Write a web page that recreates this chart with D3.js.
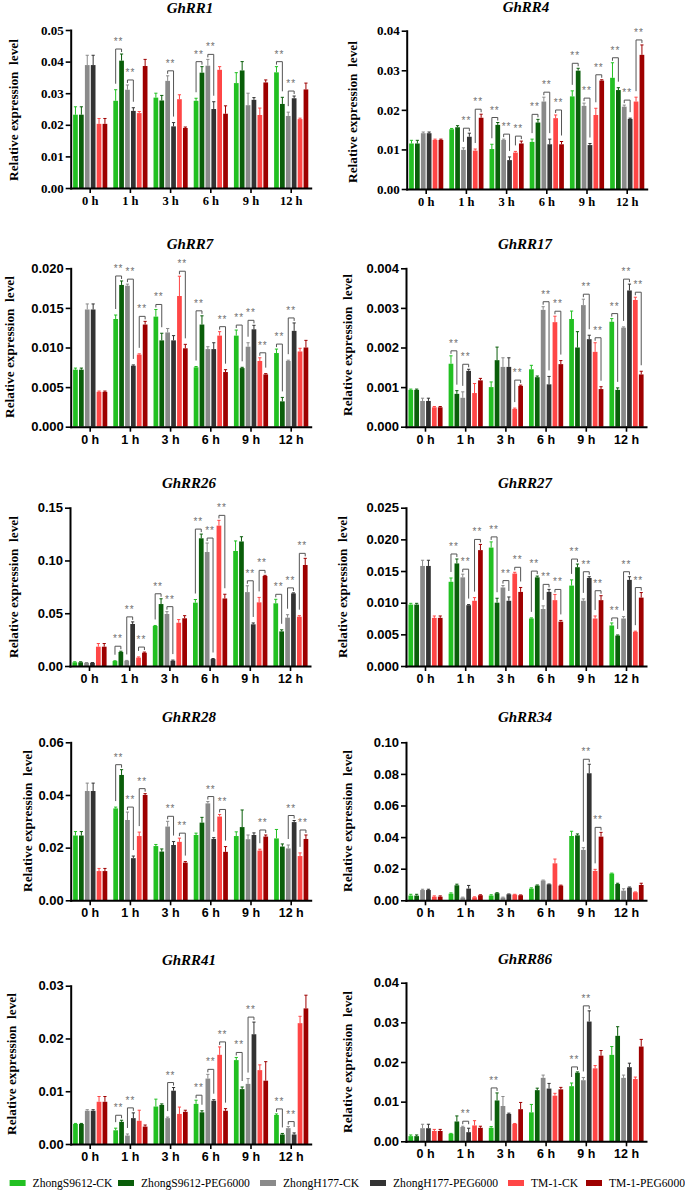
<!DOCTYPE html>
<html>
<head>
<meta charset="utf-8">
<script src="https://cdn.jsdelivr.net/npm/d3@7"></script>
<style>
  body { margin: 0; background: #fff; }
</style>
</head>
<body>
<div id="chart"></div>
<script>
// ---- data ----
const timePoints = ["0 h", "1 h", "3 h", "6 h", "9 h", "12 h"];
const seriesNames = ["ZhongS9612-CK", "ZhongS9612-PEG6000", "ZhongH177-CK", "ZhongH177-PEG6000", "TM-1-CK", "TM-1-PEG6000"];
const genes = ["GhRR1", "GhRR4", "GhRR7", "GhRR17", "GhRR26", "GhRR27", "GhRR28", "GhRR34", "GhRR41", "GhRR86"];
const yMaxes = [0.05, 0.04, 0.020, 0.004, 0.15, 0.025, 0.06, 0.10, 0.03, 0.04];
const yTickSteps = [0.01, 0.01, 0.005, 0.001, 0.05, 0.005, 0.02, 0.02, 0.01, 0.01];
const yTickDecimals = [2, 2, 3, 3, 2, 3, 2, 2, 2, 2];

// rows = time points, columns = series (same order as seriesNames)
const rr1Mean = [
  [0.0232, 0.0232, 0.0389, 0.0389, 0.0203, 0.0203],
  [0.0276, 0.0403, 0.0311, 0.0244, 0.0237, 0.0386],
  [0.0286, 0.0277, 0.0339, 0.0195, 0.0281, 0.0190],
  [0.0276, 0.0365, 0.0387, 0.0250, 0.0374, 0.0235],
  [0.0332, 0.0372, 0.0262, 0.0279, 0.0231, 0.0334],
  [0.0366, 0.0266, 0.0228, 0.0284, 0.0218, 0.0312]];
const rr1Err = [
  [0.0025, 0.0025, 0.0031, 0.0031, 0.0017, 0.0017],
  [0.0035, 0.0021, 0.0015, 0.0010, 0.0005, 0.0021],
  [0.0014, 0.0016, 0.0016, 0.0012, 0.0014, 0.0003],
  [0.0008, 0.0019, 0.0020, 0.0023, 0.0010, 0.0025],
  [0.0033, 0.0028, 0.0038, 0.0007, 0.0022, 0.0008],
  [0.0018, 0.0021, 0.0012, 0.0007, 0.0003, 0.0020]];
// [time index, pair] pair: 0 = ZhongS9612, 1 = ZhongH177, 2 = TM-1
const rr1Sig = [[1, 0], [1, 1], [2, 1], [3, 0], [3, 1], [5, 0], [5, 1]];

const rr4Mean = [
  [0.0115, 0.0115, 0.0141, 0.0141, 0.0124, 0.0124],
  [0.0151, 0.0156, 0.0099, 0.0132, 0.0097, 0.0180],
  [0.0101, 0.0162, 0.0124, 0.0073, 0.0092, 0.0115],
  [0.0119, 0.0168, 0.0221, 0.0113, 0.0179, 0.0113],
  [0.0234, 0.0299, 0.0210, 0.0111, 0.0187, 0.0274],
  [0.0281, 0.0250, 0.0208, 0.0177, 0.0221, 0.0339]];
const rr4Err = [
  [0.0008, 0.0008, 0.0003, 0.0003, 0.0002, 0.0002],
  [0.0002, 0.0004, 0.0005, 0.0009, 0.0004, 0.0009],
  [0.0012, 0.0006, 0.0002, 0.0008, 0.0003, 0.0006],
  [0.0007, 0.0008, 0.0011, 0.0013, 0.0008, 0.0007],
  [0.0014, 0.0006, 0.0007, 0.0004, 0.0017, 0.0002],
  [0.0038, 0.0006, 0.0004, 0.0002, 0.0011, 0.0025]];
const rr4Sig = [[1, 1], [1, 2], [2, 0], [2, 1], [2, 2], [3, 0], [3, 1], [3, 2], [4, 0], [4, 1], [4, 2], [5, 0], [5, 1], [5, 2]];

const rr7Mean = [
  [0.0072, 0.0072, 0.0148, 0.0148, 0.0044, 0.0044],
  [0.0136, 0.0179, 0.0178, 0.0077, 0.0091, 0.0129],
  [0.0139, 0.0109, 0.0119, 0.0109, 0.0165, 0.0099],
  [0.0075, 0.0129, 0.0098, 0.0098, 0.0115, 0.0069],
  [0.0115, 0.0074, 0.0101, 0.0123, 0.0083, 0.0066],
  [0.0093, 0.0032, 0.0083, 0.0121, 0.0095, 0.0100]];
const rr7Err = [
  [0.0002, 0.0002, 0.0007, 0.0007, 0.0001, 0.0001],
  [0.0005, 0.0005, 0.0002, 0.0001, 0.0001, 0.0004],
  [0.0009, 0.0009, 0.0005, 0.0006, 0.0025, 0.0005],
  [0.0001, 0.0011, 0.0003, 0.0008, 0.0005, 0.0003],
  [0.0007, 0.0001, 0.0005, 0.0005, 0.0004, 0.0001],
  [0.0005, 0.0005, 0.0001, 0.0010, 0.0004, 0.0009]];
const rr7Sig = [[1, 0], [1, 1], [1, 2], [2, 0], [2, 2], [3, 0], [3, 2], [4, 0], [4, 1], [4, 2], [5, 0], [5, 1]];

const rr17Mean = [
  [0.00093, 0.00093, 0.00065, 0.00065, 0.00049, 0.00049],
  [0.00159, 0.00083, 0.00073, 0.00141, 0.00085, 0.00117],
  [0.00100, 0.00168, 0.00151, 0.00151, 0.00045, 0.00103],
  [0.00145, 0.00125, 0.00295, 0.00107, 0.00264, 0.00158],
  [0.00272, 0.00200, 0.00307, 0.00221, 0.00189, 0.00095],
  [0.00265, 0.00093, 0.00250, 0.00344, 0.00320, 0.00132]];
const rr17Err = [
  [0.00002, 0.00002, 0.00007, 0.00007, 0.00002, 0.00002],
  [0.00020, 0.00008, 0.00015, 0.00004, 0.00024, 0.00005],
  [0.00013, 0.00033, 0.00023, 0.00023, 0.00002, 0.00002],
  [0.00010, 0.00003, 0.00008, 0.00020, 0.00015, 0.00009],
  [0.00020, 0.00040, 0.00015, 0.00010, 0.00023, 0.00006],
  [0.00008, 0.00005, 0.00002, 0.00016, 0.00007, 0.00008]];
const rr17Sig = [[1, 0], [1, 1], [2, 2], [3, 1], [3, 2], [4, 1], [4, 2], [5, 0], [5, 1], [5, 2]];

const rr26Mean = [
  [0.0035, 0.0035, 0.0030, 0.0030, 0.0183, 0.0183],
  [0.0047, 0.0133, 0.0050, 0.0398, 0.0079, 0.0126],
  [0.0379, 0.0587, 0.0493, 0.0050, 0.0410, 0.0452],
  [0.0600, 0.1210, 0.1080, 0.0066, 0.1330, 0.0640],
  [0.1090, 0.1180, 0.0700, 0.0395, 0.0603, 0.0853],
  [0.0594, 0.0328, 0.0458, 0.0688, 0.0467, 0.0957]];
const rr26Err = [
  [0.0005, 0.0005, 0.0003, 0.0003, 0.0030, 0.0030],
  [0.0003, 0.0007, 0.0003, 0.0020, 0.0007, 0.0006],
  [0.0005, 0.0050, 0.0022, 0.0006, 0.0030, 0.0025],
  [0.0030, 0.0040, 0.0085, 0.0005, 0.0050, 0.0040],
  [0.0095, 0.0045, 0.0060, 0.0013, 0.0047, 0.0006],
  [0.0038, 0.0015, 0.0028, 0.0005, 0.0010, 0.0063]];
const rr26Sig = [[1, 0], [1, 1], [1, 2], [2, 0], [2, 1], [3, 0], [3, 1], [3, 2], [4, 1], [4, 2], [5, 0], [5, 1], [5, 2]];

const rr27Mean = [
  [0.0097, 0.0097, 0.0158, 0.0158, 0.0076, 0.0076],
  [0.0133, 0.0162, 0.0140, 0.0096, 0.0103, 0.0183],
  [0.0187, 0.0100, 0.0124, 0.0103, 0.0146, 0.0117],
  [0.0075, 0.0140, 0.0090, 0.0117, 0.0104, 0.0070],
  [0.0127, 0.0156, 0.0103, 0.0139, 0.0075, 0.0104],
  [0.0064, 0.0048, 0.0075, 0.0136, 0.0054, 0.0108]];
const rr27Err = [
  [0.0002, 0.0002, 0.0009, 0.0009, 0.0003, 0.0003],
  [0.0006, 0.0007, 0.0005, 0.0001, 0.0005, 0.0009],
  [0.0009, 0.0007, 0.0003, 0.0006, 0.0002, 0.0007],
  [0.0001, 0.0002, 0.0005, 0.0004, 0.0009, 0.0002],
  [0.0009, 0.0005, 0.0003, 0.0002, 0.0004, 0.0007],
  [0.0004, 0.0001, 0.0003, 0.0005, 0.0001, 0.0008]];
const rr27Sig = [[1, 0], [1, 1], [1, 2], [2, 0], [2, 1], [2, 2], [3, 0], [3, 1], [3, 2], [4, 0], [4, 1], [4, 2], [5, 0], [5, 1], [5, 2]];

const rr28Mean = [
  [0.0246, 0.0246, 0.0415, 0.0415, 0.0111, 0.0111],
  [0.0349, 0.0476, 0.0305, 0.0160, 0.0244, 0.0400],
  [0.0206, 0.0185, 0.0280, 0.0210, 0.0222, 0.0143],
  [0.0248, 0.0295, 0.0368, 0.0233, 0.0318, 0.0184],
  [0.0244, 0.0278, 0.0232, 0.0248, 0.0189, 0.0242],
  [0.0235, 0.0204, 0.0197, 0.0297, 0.0168, 0.0233]];
const rr28Err = [
  [0.0015, 0.0015, 0.0030, 0.0030, 0.0010, 0.0010],
  [0.0005, 0.0020, 0.0030, 0.0008, 0.0015, 0.0005],
  [0.0006, 0.0010, 0.0020, 0.0013, 0.0014, 0.0004],
  [0.0007, 0.0020, 0.0007, 0.0005, 0.0008, 0.0020],
  [0.0016, 0.0065, 0.0016, 0.0008, 0.0005, 0.0006],
  [0.0034, 0.0010, 0.0013, 0.0006, 0.0012, 0.0015]];
const rr28Sig = [[1, 0], [1, 1], [1, 2], [2, 1], [2, 2], [3, 1], [3, 2], [4, 2], [5, 1], [5, 2]];

const rr34Mean = [
  [0.0030, 0.0030, 0.0065, 0.0065, 0.0023, 0.0023],
  [0.0042, 0.0095, 0.0017, 0.0074, 0.0019, 0.0032],
  [0.0030, 0.0045, 0.0017, 0.0038, 0.0036, 0.0032],
  [0.0074, 0.0093, 0.0125, 0.0101, 0.0234, 0.0093],
  [0.0407, 0.0411, 0.0319, 0.0804, 0.0186, 0.0403],
  [0.0169, 0.0103, 0.0061, 0.0080, 0.0051, 0.0097]];
const rr34Err = [
  [0.0008, 0.0008, 0.0005, 0.0005, 0.0005, 0.0005],
  [0.0005, 0.0007, 0.0003, 0.0020, 0.0003, 0.0003],
  [0.0005, 0.0003, 0.0003, 0.0002, 0.0002, 0.0002],
  [0.0005, 0.0004, 0.0003, 0.0002, 0.0027, 0.0003],
  [0.0030, 0.0009, 0.0014, 0.0057, 0.0010, 0.0027],
  [0.0003, 0.0005, 0.0012, 0.0004, 0.0002, 0.0011]];
const rr34Sig = [[4, 1], [4, 2]];

const rr41Mean = [
  [0.0038, 0.0038, 0.0063, 0.0063, 0.0080, 0.0080],
  [0.0026, 0.0042, 0.0016, 0.0049, 0.0044, 0.0033],
  [0.0071, 0.0074, 0.0049, 0.0101, 0.0057, 0.0061],
  [0.0076, 0.0060, 0.0124, 0.0082, 0.0169, 0.0063],
  [0.0159, 0.0104, 0.0114, 0.0208, 0.0140, 0.0120],
  [0.0055, 0.0018, 0.0030, 0.0018, 0.0229, 0.0257]];
const rr41Err = [
  [0.0001, 0.0001, 0.0002, 0.0002, 0.0010, 0.0010],
  [0.0004, 0.0003, 0.0003, 0.0010, 0.0020, 0.0003],
  [0.0014, 0.0002, 0.0002, 0.0006, 0.0013, 0.0003],
  [0.0007, 0.0003, 0.0008, 0.0002, 0.0015, 0.0004],
  [0.0005, 0.0004, 0.0010, 0.0023, 0.0010, 0.0036],
  [0.0002, 0.0002, 0.0003, 0.0003, 0.0013, 0.0025]];
const rr41Sig = [[1, 0], [1, 1], [2, 1], [3, 0], [3, 1], [3, 2], [4, 0], [4, 1], [5, 0], [5, 1]];

const rr86Mean = [
  [0.0013, 0.0013, 0.0033, 0.0033, 0.0026, 0.0026],
  [0.0019, 0.0050, 0.0036, 0.0023, 0.0040, 0.0034],
  [0.0034, 0.0103, 0.0089, 0.0069, 0.0044, 0.0081],
  [0.0073, 0.0129, 0.0160, 0.0133, 0.0115, 0.0131],
  [0.0139, 0.0173, 0.0154, 0.0302, 0.0184, 0.0216],
  [0.0218, 0.0266, 0.0160, 0.0187, 0.0157, 0.0239]];
const rr86Err = [
  [0.0003, 0.0003, 0.0010, 0.0010, 0.0004, 0.0004],
  [0.0001, 0.0014, 0.0002, 0.0010, 0.0012, 0.0004],
  [0.0003, 0.0019, 0.0024, 0.0002, 0.0001, 0.0017],
  [0.0020, 0.0005, 0.0007, 0.0013, 0.0006, 0.0005],
  [0.0008, 0.0002, 0.0007, 0.0027, 0.0007, 0.0013],
  [0.0021, 0.0023, 0.0007, 0.0010, 0.0005, 0.0018]];
const rr86Sig = [[1, 1], [2, 0], [4, 0], [4, 1]];

const means = [rr1Mean, rr4Mean, rr7Mean, rr17Mean, rr26Mean, rr27Mean, rr28Mean, rr34Mean, rr41Mean, rr86Mean];
const errs = [rr1Err, rr4Err, rr7Err, rr17Err, rr26Err, rr27Err, rr28Err, rr34Err, rr41Err, rr86Err];
const sigs = [rr1Sig, rr4Sig, rr7Sig, rr17Sig, rr26Sig, rr27Sig, rr28Sig, rr34Sig, rr41Sig, rr86Sig];

// ---- styles / layout ----
const colors = ["#22c022", "#0a5e0a", "#8a8a8a", "#333333", "#ff4646", "#9e0000"];
const serif = "'Liberation Serif', 'Times New Roman', serif";
const sans = "'Liberation Sans', Arial, sans-serif";

// axis x, axis top / bottom, title pos, y-label pos
const layout = [
  { ax: 70.7,  top: 30,    bot: 188,    tx: 190, ty: 8,   lx: 13,  ly: 110,  font: serif },
  { ax: 406.7, top: 30.7,  bot: 189,    tx: 526, ty: 7,   lx: 352, ly: 112,  font: serif },
  { ax: 70.7,  top: 268.3, bot: 426.7,  tx: 190, ty: 244, lx: 9,   ly: 347,  font: sans },
  { ax: 406,   top: 268.3, bot: 426.7,  tx: 525, ty: 244, lx: 347, ly: 345,  font: sans },
  { ax: 70,    top: 507.7, bot: 666,    tx: 189, ty: 483, lx: 13,  ly: 587,  font: sans },
  { ax: 406,   top: 507.7, bot: 666,    tx: 525, ty: 483, lx: 342, ly: 587,  font: sans },
  { ax: 70.7,  top: 742.3, bot: 900.3,  tx: 189, ty: 717, lx: 27,  ly: 821,  font: sans },
  { ax: 406,   top: 742.3, bot: 900.3,  tx: 525, ty: 717, lx: 347, ly: 821,  font: sans },
  { ax: 70.7,  top: 985.7, bot: 1144,   tx: 189, ty: 960, lx: 11,  ly: 1064, font: sans },
  { ax: 406,   top: 982.7, bot: 1141.3, tx: 525, ty: 959, lx: 347, ly: 1062, font: sans }
];

const W = 685, H = 1192;
const svg = d3.select("#chart").append("svg").attr("width", W).attr("height", H);

genes.forEach((gene, i) => {
  const L = layout[i];
  const mean = means[i], err = errs[i];
  const g = svg.append("g");

  const y = d3.scaleLinear().domain([0, yMaxes[i]]).range([L.bot, L.top]);
  const x0 = d3.scaleBand().domain(timePoints).range([L.ax, L.ax + 240])
    .paddingInner(0.15).paddingOuter(0.06);
  const x1 = d3.scaleBand().domain(d3.range(seriesNames.length)).range([0, x0.bandwidth()])
    .paddingInner(0.2);
  const cx = (t, s) => x0(timePoints[t]) + x1(s) + x1.bandwidth() / 2;

  // bars
  const groups = g.selectAll(".grp").data(mean).enter().append("g")
    .attr("transform", (d, t) => `translate(${x0(timePoints[t])},0)`);
  groups.selectAll("rect").data(d => d).enter().append("rect")
    .attr("x", (d, s) => x1(s))
    .attr("y", d => y(d))
    .attr("width", x1.bandwidth())
    .attr("height", d => L.bot - y(d))
    .attr("fill", (d, s) => colors[s]);

  // error bars (upper only)
  mean.forEach((row, t) => row.forEach((v, s) => {
    const xc = cx(t, s), y1 = y(v), y2 = y(v + err[t][s]);
    g.append("line").attr("x1", xc).attr("x2", xc).attr("y1", y1).attr("y2", y2)
      .attr("stroke", colors[s]).attr("stroke-width", 1);
    g.append("line").attr("x1", xc - 1.6).attr("x2", xc + 1.6).attr("y1", y2).attr("y2", y2)
      .attr("stroke", colors[s]).attr("stroke-width", 1);
  }));

  // significance brackets
  sigs[i].forEach(([t, pair]) => {
    const a = pair * 2, b = a + 1;
    const xa = cx(t, a), xb = cx(t, b);
    const ta = y(mean[t][a] + err[t][a]), tb = y(mean[t][b] + err[t][b]);
    const by = Math.min(ta, tb) - 5;
    const la = Math.max(by + 3, ta - 6), lb = Math.max(by + 3, tb - 6);
    g.append("path")
      .attr("d", `M${xa},${la}V${by}H${xb}V${lb}`)
      .attr("fill", "none").attr("stroke", "#555").attr("stroke-width", 1);
    g.append("text").attr("x", (xa + xb) / 2).attr("y", by - 4)
      .attr("text-anchor", "middle").attr("font-family", sans).attr("font-size", 10)
      .attr("letter-spacing", 1).attr("fill", "#707070").text("**");
  });

  // axes
  const ticks = d3.range(0, yMaxes[i] + yTickSteps[i] / 2, yTickSteps[i]);
  const yAxis = g.append("g").attr("transform", `translate(${L.ax},0)`)
    .call(d3.axisLeft(y).tickValues(ticks).tickFormat(d3.format(`.${yTickDecimals[i]}f`))
      .tickSize(5).tickSizeOuter(0).tickPadding(2));
  const xAxis = g.append("g").attr("transform", `translate(0,${L.bot})`)
    .call(d3.axisBottom(x0).tickSize(5).tickSizeOuter(0).tickPadding(3));
  [yAxis, xAxis].forEach(ax => {
    ax.select(".domain").attr("stroke", "#000").attr("stroke-width", 2).attr("stroke-linecap", "square");
    ax.selectAll(".tick line").attr("stroke", "#000").attr("stroke-width", 1.6);
    ax.selectAll("text").attr("font-family", L.font).attr("font-weight", "bold")
      .attr("font-size", 13).attr("fill", "#000");
  });
  xAxis.selectAll("text").attr("font-size", 12.5);

  // title
  g.append("text").attr("x", L.tx).attr("y", L.ty + 5).attr("text-anchor", "middle")
    .attr("font-family", serif).attr("font-weight", "bold").attr("font-style", "italic")
    .attr("font-size", 15).text(gene);

  // y label
  g.append("text").attr("transform", `translate(${L.lx + 4.5},${L.ly}) rotate(-90)`)
    .attr("text-anchor", "middle").attr("font-family", serif).attr("font-weight", "bold")
    .attr("font-size", 13.3).attr("xml:space", "preserve").text("Relative expression  level");
});

// legend
const legendX = [9.6, 118, 260, 370, 508, 586];
const legend = svg.append("g").attr("transform", "translate(0,1180)");
seriesNames.forEach((name, s) => {
  legend.append("rect").attr("x", legendX[s]).attr("y", 0).attr("width", 16).attr("height", 6)
    .attr("fill", colors[s]);
  legend.append("text").attr("x", legendX[s] + 23).attr("y", 7).attr("font-family", serif)
    .attr("font-size", 11.6).attr("fill", "#000").text(name);
});
</script>
</body>
</html>
